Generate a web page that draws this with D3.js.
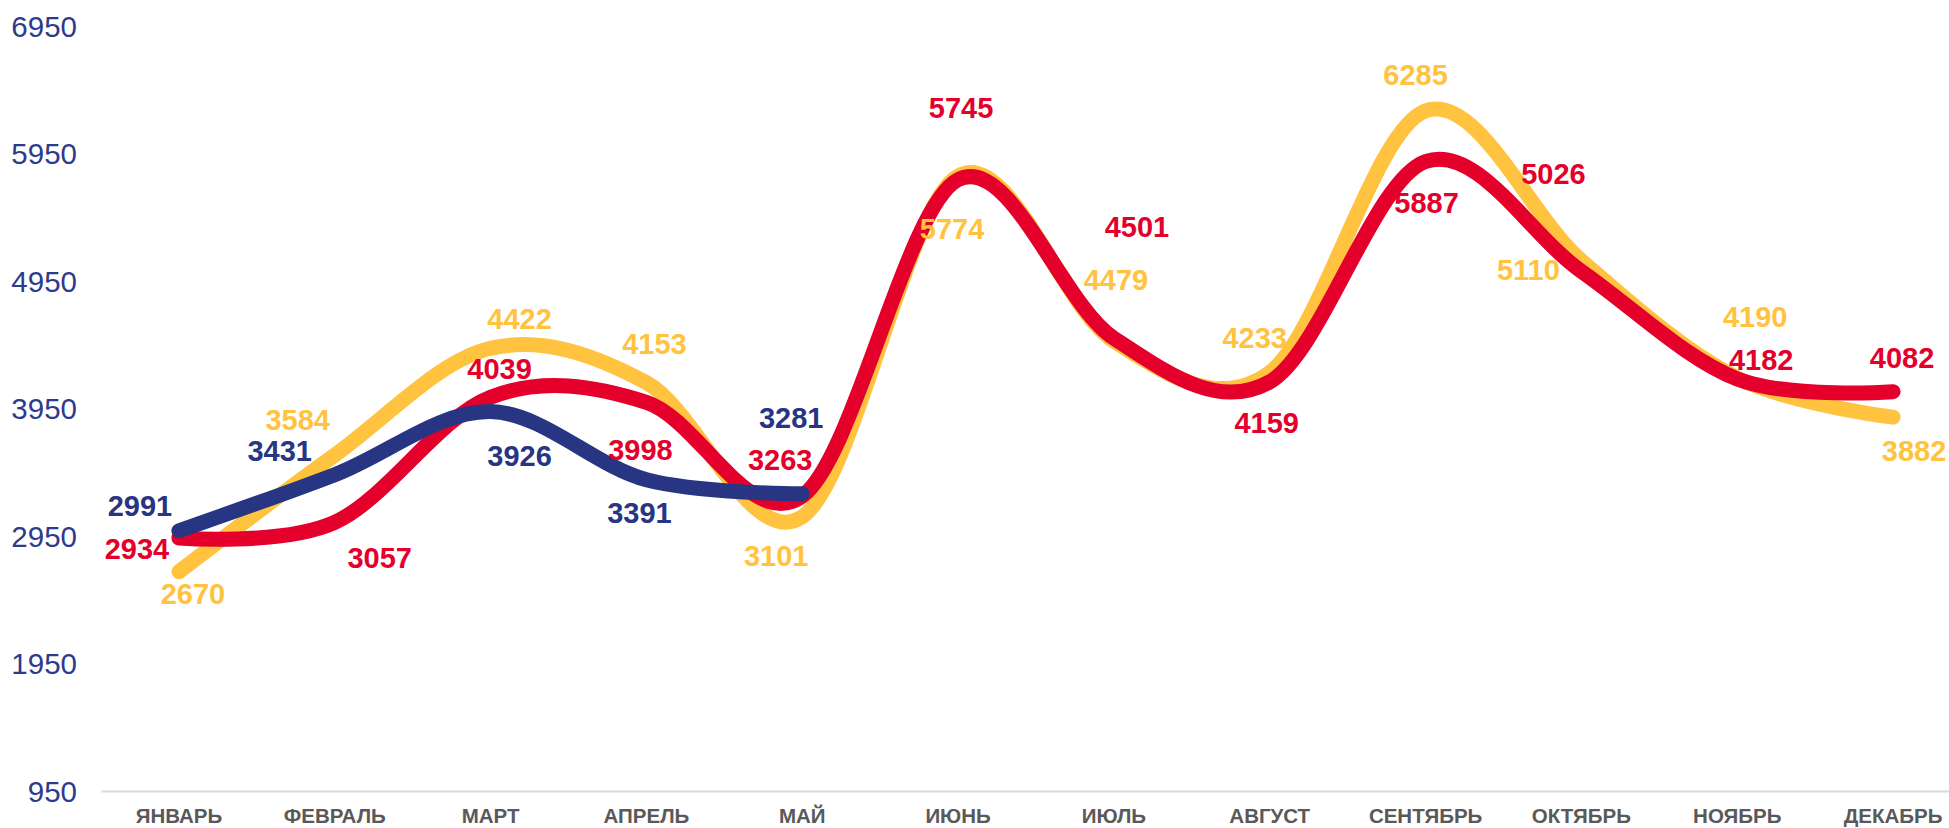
<!DOCTYPE html>
<html>
<head>
<meta charset="utf-8">
<script src="https://cdn.jsdelivr.net/npm/d3@7"></script>
<style>
  html, body { margin: 0; padding: 0; background: #ffffff; overflow: hidden; }
  svg { display: block; }
</style>
</head>
<body>
<svg id="chart" width="1949" height="828"></svg>
<script>
// ---- data ----
const months = ["ЯНВАРЬ","ФЕВРАЛЬ","МАРТ","АПРЕЛЬ","МАЙ","ИЮНЬ","ИЮЛЬ","АВГУСТ","СЕНТЯБРЬ","ОКТЯБРЬ","НОЯБРЬ","ДЕКАБРЬ"];
const yellowValues = [2670, 3584, 4422, 4153, 3101, 5774, 4479, 4233, 6285, 5110, 4190, 3882];
const redValues    = [2934, 3057, 4039, 3998, 3263, 5745, 4501, 4159, 5887, 5026, 4182, 4082];
const blueValues   = [2991, 3431, 3926, 3391, 3281];
const yTicks = [950, 1950, 2950, 3950, 4950, 5950, 6950];

// ---- label placement (styling, px offsets from the point) ----
const yellowLabelOffsets = [[14,22],[-37,-35],[29,-29],[8,-39],[-26,39],[-6,53],[2,-61],[-15,-35],[-10,-36],[-53,9],[18,-61],[21,34]];
const redLabelOffsets    = [[-42,11],[45,35],[9,-28],[-6,47],[-22,-36],[3,-72],[23,-111],[-3,41],[1,41],[-28,-97],[24,-19],[9,-34]];
const blueLabelOffsets   = [[-39,-25],[-55,-24],[29,44],[-7,33],[-11,-76]];

const colors = { yellow: "#FFC340", red: "#E4002B", blue: "#283583" };

const svg = d3.select("#chart");

const x = d3.scaleBand().domain(months).range([101, 1971]).padding(0);
const y = d3.scaleLinear().domain([950, 6950]).range([791, 26]);
const cx = m => x(m) + x.bandwidth() / 2;

// y axis
const yAxis = svg.append("g")
  .attr("transform", "translate(77,0)")
  .call(d3.axisLeft(y).tickValues(yTicks).tickSize(0).tickPadding(0).tickFormat(d3.format("d")));
yAxis.select(".domain").remove();
yAxis.selectAll("text")
  .attr("fill", "#2E3A8C")
  .attr("font-family", "'Liberation Sans', Arial, sans-serif")
  .attr("font-size", 29.5)
  .attr("dy", "0.35em");

// x axis
const xAxis = svg.append("g")
  .attr("transform", "translate(0,791)")
  .call(d3.axisBottom(x).tickSize(0).tickPadding(0));
xAxis.select(".domain").attr("stroke", "#D9D9D9").attr("stroke-width", 2);
xAxis.selectAll("text")
  .attr("y", 32)
  .attr("dy", "0")
  .attr("fill", "#595959")
  .attr("font-family", "'Liberation Sans', Arial, sans-serif")
  .attr("font-weight", "bold")
  .attr("font-size", 20.5);

const line = d3.line()
  .x(d => cx(d.m))
  .y(d => y(d.v))
  .curve(d3.curveCardinal.tension(0));

function series(values, color, offsets) {
  const pts = values.map((v, i) => ({ m: months[i], v, off: offsets[i] }));
  svg.append("path")
    .datum(pts)
    .attr("d", line)
    .attr("fill", "none")
    .attr("stroke", color)
    .attr("stroke-width", 15)
    .attr("stroke-linecap", "round")
    .attr("stroke-linejoin", "round");
  return pts;
}

const yPts = series(yellowValues, colors.yellow, yellowLabelOffsets);
const rPts = series(redValues, colors.red, redLabelOffsets);
const bPts = series(blueValues, colors.blue, blueLabelOffsets);

function labels(pts, color) {
  svg.append("g").selectAll("text")
    .data(pts)
    .join("text")
    .attr("x", d => cx(d.m) + d.off[0])
    .attr("y", d => y(d.v) + d.off[1])
    .attr("dy", "0.35em")
    .attr("text-anchor", "middle")
    .attr("fill", color)
    .attr("font-family", "'Liberation Sans', Arial, sans-serif")
    .attr("font-weight", "bold")
    .attr("font-size", 29)
    .text(d => d.v);
}
labels(yPts, colors.yellow);
labels(rPts, colors.red);
labels(bPts, colors.blue);
</script>
</body>
</html>
